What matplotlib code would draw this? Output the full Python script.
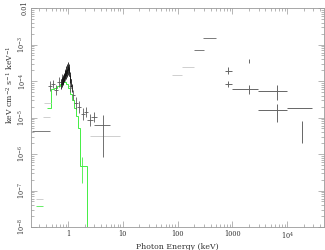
import numpy as np
import matplotlib
matplotlib.use("Agg")
import matplotlib.pyplot as plt
from matplotlib.ticker import FixedLocator, FixedFormatter, LogLocator, NullFormatter

plt.rcParams['font.family'] = ['DejaVu Serif']
plt.rcParams['mathtext.fontset'] = 'dejavuserif'

# black dense spectrum (contiguous bins, keV) and flux
black_edges = [0.735, 0.757, 0.78, 0.80, 0.82, 0.838, 0.855, 0.872, 0.89, 0.91, 0.93,
               0.95, 0.97, 0.99, 1.01, 1.03, 1.055, 1.085, 1.115, 1.15, 1.19]
black_f = [8.3e-5, 9.5e-5, 1.1e-4, 1.0e-4, 1.3e-4, 1.2e-4, 1.45e-4, 1.6e-4, 1.5e-4, 1.9e-4,
           1.7e-4, 2.2e-4, 2.0e-4, 2.6e-4, 2.2e-4, 1.8e-4, 1.4e-4, 1.15e-4, 9e-5, 6.5e-5]
black_flo = [6.2e-5, 7.0e-5, 8.2e-5, 7.6e-5, 1.0e-4, 9.2e-5, 1.1e-4, 1.25e-4, 1.15e-4, 1.45e-4,
             1.3e-4, 1.7e-4, 1.5e-4, 2.0e-4, 1.7e-4, 1.4e-4, 1.08e-4, 8.8e-5, 6.9e-5, 5.0e-5]
black_fhi = [1.1e-4, 1.25e-4, 1.45e-4, 1.3e-4, 1.7e-4, 1.55e-4, 1.9e-4, 2.05e-4, 1.95e-4, 2.5e-4,
             2.2e-4, 2.9e-4, 2.6e-4, 3.4e-4, 2.9e-4, 2.35e-4, 1.8e-4, 1.5e-4, 1.17e-4, 8.5e-5]

# dark grey crosses, soft band
gray_e = [0.469, 0.532, 0.604, 0.685, 0.777, 0.882, 1.088, 1.234, 1.40, 1.587, 1.878, 2.13, 2.52, 2.98, 4.35]
gray_elo = [0.431, 0.490, 0.555, 0.630, 0.730, 0.828, 1.021, 1.158, 1.287, 1.46, 1.727, 1.958, 2.222, 2.63, 2.98]
gray_ehi = [0.511, 0.579, 0.657, 0.745, 0.828, 0.939, 1.158, 1.314, 1.522, 1.727, 2.042, 2.317, 2.86, 3.38, 5.84]
gray_f = [7.29e-5, 8.28e-5, 5.66e-5, 9.39e-5, 1.13e-4, 1.46e-4, 7.29e-5, 4.13e-5, 2.49e-5, 1.94e-5,
          1.25e-5, 1.42e-5, 8.55e-6, 1.03e-5, 6.24e-6]
gray_flo = [5.32e-5, 6.43e-5, 4.13e-5, 6.85e-5, 8.28e-5, 1.0e-4, 5.0e-5, 3.01e-5, 1.71e-5, 1.33e-5,
            8.55e-6, 1.03e-5, 5.85e-6, 7.53e-6, 8.28e-7]
gray_fhi = [1.0e-4, 1.06e-4, 7.77e-5, 1.29e-4, 1.56e-4, 2.13e-4, 1.06e-4, 5.66e-5, 3.65e-5, 2.83e-5,
            1.82e-5, 1.94e-5, 1.25e-5, 1.42e-5, 1.17e-5]

# green step spectrum
green_edges = [0.42, 0.49, 0.555, 0.63, 0.715, 0.777, 0.845, 0.919, 1.0, 1.088, 1.183,
               1.287, 1.40, 1.522, 1.656, 2.222, 2.3]
green_f = [1.82e-5, 6.04e-5, 6.43e-5, 7.29e-5, 8.28e-5, 9.39e-5, 9.39e-5, 8.28e-5, 6.43e-5,
           4.41e-5, 3.01e-5, 1.82e-5, 1.10e-5, 5.15e-6, 4.69e-7, 1e-12]
green_err_e = [1.80]
green_err_f = [4.69e-7]
green_err_lo = [1.6e-7]
green_err_hi = [8.3e-7]

# bin-only segments (no vertical error)
seg_light_elo = [0.365, 0.35, 2.52, 0.26, 79, 120]
seg_light_ehi = [0.49, 0.469, 8.9, 0.35, 120, 199]
seg_light_f = [2.49e-5, 1.03e-5, 3.1e-6, 5.9e-8, 1.46e-4, 2.42e-4]
seg_mid_elo = [199, 290, 0.22]
seg_mid_ehi = [302, 502, 0.469]
seg_mid_f = [7.06e-4, 1.5e-3, 4.3e-6]
seg_green_elo = [0.26]
seg_green_ehi = [0.35]
seg_green_f = [3.8e-8]

# hard X-ray / gamma-ray crosses
hard_e = [832, 832, 2010, 2010, 6510, 6510, 16400, 18600]
hard_elo = [735, 735, 2010, 981, 2930, 2930, 9910, 18600]
hard_ehi = [981, 981, 2010, 2930, 9910, 9910, 28400, 18600]
hard_f = [1.88e-4, 8.28e-5, 3.5e-4, 6.04e-5, 5.3e-5, 1.6e-5, 1.8e-5, 4.0e-6]
hard_flo = [1.56e-4, 6.86e-5, 3.11e-4, 4.4e-5, 3.0e-5, 7.5e-6, 1.8e-5, 2.0e-6]
hard_fhi = [2.42e-4, 1.0e-4, 4.0e-4, 7.8e-5, 7.8e-5, 2.35e-5, 1.8e-5, 8.0e-6]

xticks = [1, 10, 100, 1000, 1e4]
xticklabels = ['1', '10', '100', '1000', '$10^4$']
yticks = [1e-8, 1e-7, 1e-6, 1e-5, 1e-4, 1e-3, 1e-2]
yticklabels = ['$10^{-8}$', '$10^{-7}$', '$10^{-6}$', '$10^{-5}$', '$10^{-4}$', '$10^{-3}$', '0.01']


def cross(ax, e, elo, ehi, f, flo, fhi, color, lw=0.6):
    e, elo, ehi = np.array(e), np.array(elo), np.array(ehi)
    f, flo, fhi = np.array(f), np.array(flo), np.array(fhi)
    ax.errorbar(e, f, xerr=[e - elo, ehi - e], yerr=[f - flo, fhi - f],
                fmt='none', ecolor=color, elinewidth=lw, capsize=0)


fig = plt.figure(figsize=(3.25, 2.5), dpi=100)
ax = fig.add_axes([0.0954, 0.092, 0.9015, 0.876])
ax.set_xscale('log')
ax.set_yscale('log')
ax.set_xlim(0.21, 4.7e4)
ax.set_ylim(1e-8, 1e-2)

# segments
ax.hlines(seg_light_f, seg_light_elo, seg_light_ehi, colors='#cfcfcf', lw=0.7)
ax.hlines(seg_mid_f, seg_mid_elo, seg_mid_ehi, colors='#7a7a7a', lw=0.7)
ax.hlines(seg_green_f, seg_green_elo, seg_green_ehi, colors='#66ee66', lw=0.7)

# green step
ax.stairs(green_f, green_edges, baseline=None, color='#44ee44', lw=0.7)
cross(ax, green_err_e, green_err_e, green_err_e, green_err_f, green_err_lo, green_err_hi, '#44ee44')

# grey crosses
cross(ax, gray_e, gray_elo, gray_ehi, gray_f, gray_flo, gray_fhi, '#5a5a5a')

# black dense data
be = np.array(black_edges)
bc = np.sqrt(be[:-1] * be[1:])
cross(ax, bc, be[:-1], be[1:], black_f, black_flo, black_fhi, '#111111', lw=0.6)

# hard crosses
cross(ax, hard_e, hard_elo, hard_ehi, hard_f, hard_flo, hard_fhi, '#666666', lw=0.7)

# axes styling
for s in ax.spines.values():
    s.set_color('#999999')
    s.set_linewidth(0.6)
ax.xaxis.set_major_locator(FixedLocator(xticks))
ax.xaxis.set_major_formatter(FixedFormatter(xticklabels))
ax.xaxis.set_minor_locator(LogLocator(base=10, subs=np.arange(2, 10), numticks=20))
ax.xaxis.set_minor_formatter(NullFormatter())
ax.yaxis.set_major_locator(FixedLocator(yticks))
ax.yaxis.set_major_formatter(FixedFormatter(yticklabels))
ax.yaxis.set_minor_locator(LogLocator(base=10, subs=np.arange(2, 10), numticks=20))
ax.yaxis.set_minor_formatter(NullFormatter())
ax.tick_params(which='both', direction='in', top=True, right=True, color='#999999', width=0.5,
               labelsize=4.8, labelcolor='#333333')
ax.tick_params(which='major', length=4)
ax.tick_params(which='minor', length=2)
ax.tick_params(axis='x', pad=2.5)
plt.setp(ax.get_yticklabels(), rotation=90, va='center')
ax.tick_params(axis='y', pad=2)

ax.set_xlabel('Photon Energy (keV)', fontsize=5.6, color='#333333', labelpad=1)
fig.text(0.03, 0.66, 'keV cm$^{-2}$ s$^{-1}$ keV$^{-1}$', rotation=90, fontsize=5.6,
         color='#333333', ha='center', va='center')

fig.savefig('out.png', dpi=100)
